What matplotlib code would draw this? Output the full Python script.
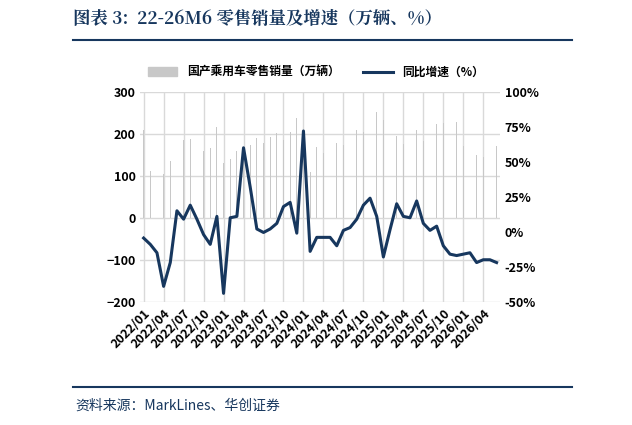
import matplotlib
matplotlib.use('Agg')
import matplotlib.pyplot as plt
import numpy as np

plt.rcParams['font.family'] = ['Noto Sans CJK SC', 'DejaVu Sans']

months = [f"{y}/{m:02d}" for y in range(2022, 2027) for m in range(1, 13)][:54]
sales = [208,111,157,104,135,194,186,187,193,160,166,217,
         130,139,159,163,174,189,177,192,202,185,204,237,
         207,110,169,155,171,177,173,190,210,205,226,253,
         233,138,194,175,193,208,183,202,224,225,225,229,
         170,120,150,145,160,170]
yoy = [-4.5,-9,-15,-39,-22,15,9,19,9,-2,-9,11,
       -44,10,11,60,32,2,-0.5,2,6,18,21,-1,
       72,-14,-4,-4,-4,-10,1,3,9,19,24,11,
       -18,1.5,20,11,10,22,6,1,4,-10,-16,-17,
       -16,-15,-22,-20,-20,-22]

fig = plt.figure(figsize=(6.32, 4.25), dpi=100)
ax = fig.add_axes([0.222, 0.29, 0.569, 0.494])
x = np.arange(len(months))
ax.bar(x, sales, width=0.12, color='#c8c8c8', label='国产乘用车零售销量（万辆）', zorder=2)
ax.set_ylim(-200, 300)
ax.set_yticks(range(-200, 301, 100))
ax.set_xlim(-0.5, len(months) - 0.5)
ax.set_xticks(x[::3])
ax.set_xticklabels(months[::3], rotation=45, ha='right', rotation_mode='anchor', fontsize=9, fontweight='bold')
ax.grid(True, color='#d9d9d9', lw=1, zorder=0)
ax.tick_params(length=0, labelsize=9)
for t in ax.get_yticklabels():
    t.set_fontweight('bold')
for s in ax.spines.values():
    s.set_visible(False)
ax2 = ax.twinx()
ax2.plot(x, yoy, color='#17375e', lw=2.2, label='同比增速（%）', zorder=3)
ax2.set_ylim(-50, 100)
ax2.set_yticks(range(-50, 101, 25))
ax2.set_yticklabels([f"{v}%" for v in range(-50, 101, 25)], fontsize=9, fontweight='bold')
ax2.tick_params(length=0)
for s in ax2.spines.values():
    s.set_visible(False)
h1, l1 = ax.get_legend_handles_labels()
h2, l2 = ax2.get_legend_handles_labels()
from matplotlib.patches import Patch
fig.legend([Patch(color='#c8c8c8'), h2[0]], l1 + l2, loc='center', bbox_to_anchor=(0.5, 0.83),
           ncol=2, frameon=False, fontsize=8.5, handlelength=2.5, prop={'weight': 'bold', 'size': 8.5})

fig.text(0.115, 0.955, '图表 3:  22-26M6 零售销量及增速（万辆、%）', fontsize=12.5, fontweight='bold',
         color='#17375e', va='center', family=['Noto Serif CJK SC', 'Noto Sans CJK SC', 'DejaVu Sans'])
fig.add_artist(plt.Line2D([0.115, 0.905], [0.905, 0.905], color='#17375e', lw=1.5))
fig.add_artist(plt.Line2D([0.115, 0.905], [0.09, 0.09], color='#17375e', lw=1.5))
fig.text(0.12, 0.045, '资料来源：MarkLines、华创证券', fontsize=10, style='italic', color='#17375e', va='center')
fig.savefig('out.png', dpi=100)
